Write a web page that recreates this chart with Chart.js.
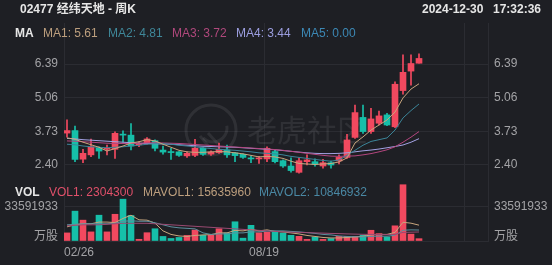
<!DOCTYPE html>
<html>
<head>
<meta charset="utf-8">
<title>02477 经纬天地 - 周K</title>
<script src="https://cdn.jsdelivr.net/npm/chart.js"></script>
<style>
  body { margin: 0; background: #1e1f24; }
  #wrap { position: relative; width: 552px; height: 265px; overflow: hidden; background: #1e1f24;
          font-family: "Liberation Sans", Arial, "Noto Sans CJK SC", sans-serif; }
  canvas { position: absolute; left: 0; top: 0; }
  .t { position: absolute; font-size: 12px; line-height: 14px; white-space: pre; }
  .b { font-weight: bold; color: #e6e6e6; }
</style>
</head>
<body>
<div id="wrap">
  <canvas id="priceChart" width="552" height="265"></canvas>
  <canvas id="volChart" width="552" height="265"></canvas>

  <span class="t b" style="left:20px;top:2px">02477 经纬天地 - 周K</span>
  <span class="t b" style="left:422px;top:2px">2024-12-30</span>
  <span class="t b" style="left:493px;top:2px">17:32:36</span>

  <span class="t b" style="left:15px;top:26px">MA</span>
  <span class="t" style="left:43px;top:26px;color:#bd9f7e">MA1: 5.61</span>
  <span class="t" style="left:108px;top:26px;color:#3f8799">MA2: 4.81</span>
  <span class="t" style="left:172px;top:26px;color:#b0487c">MA3: 3.72</span>
  <span class="t" style="left:236px;top:26px;color:#9c9ee0">MA4: 3.44</span>
  <span class="t" style="left:301px;top:26px;color:#3c88b5">MA5: 0.00</span>

  <span class="t b" style="left:15px;top:185px">VOL</span>
  <span class="t" style="left:49px;top:185px;color:#e0506a">VOL1: 2304300</span>
  <span class="t" style="left:143px;top:185px;color:#bd9f7e">MAVOL1: 15635960</span>
  <span class="t" style="left:259px;top:185px;color:#4a88a4">MAVOL2: 10846932</span>
</div>

<script>
  // weekly candles, 2024-02-26 .. 2024-12-30
  var opens  = [3.66, 3.76, 2.63, 2.80, 3.08, 3.02, 3.02, 3.62, 3.58, 3.20, 3.26, 3.36, 2.99, 2.91, 2.92,
                2.76, 2.78, 3.06, 2.83, 2.89, 2.99, 2.88, 2.82, 2.67, 2.64, 2.64, 2.93, 2.57, 2.36, 2.11,
                2.53, 2.53, 2.36, 2.49, 2.56, 2.70, 3.49, 4.28, 3.72, 4.05, 4.38, 3.91, 5.34, 6.11, 6.42];
  var closes = [3.76, 2.62, 2.86, 3.12, 2.95, 3.04, 3.65, 3.58, 3.15, 3.24, 3.43, 3.06, 2.91, 2.89, 2.78,
                2.86, 3.06, 2.82, 2.91, 3.02, 2.80, 2.77, 2.70, 2.64, 2.67, 3.06, 2.53, 2.36, 2.18, 2.57,
                2.60, 2.43, 2.49, 2.40, 2.70, 3.39, 4.47, 3.72, 4.22, 4.34, 3.98, 5.59, 6.06, 6.41, 6.61];
  var highs  = [4.18, 3.94, 3.02, 3.42, 3.12, 3.19, 3.71, 3.75, 4.04, 3.32, 3.48, 3.39, 3.15, 3.06, 2.93,
                2.92, 3.41, 3.10, 2.96, 3.27, 3.19, 2.90, 2.84, 2.76, 2.74, 3.12, 3.00, 2.60, 2.68, 2.68,
                2.80, 2.64, 2.62, 2.55, 2.80, 3.61, 4.77, 4.77, 4.64, 4.53, 4.44, 5.69, 6.75, 6.75, 6.79];
  var lows   = [3.50, 2.53, 2.49, 2.73, 2.66, 2.80, 2.66, 3.30, 3.00, 3.12, 3.22, 2.96, 2.83, 2.62, 2.74,
                2.70, 2.73, 2.78, 2.78, 2.86, 2.70, 2.53, 2.66, 2.49, 2.46, 2.53, 2.48, 2.30, 2.12, 2.08,
                2.40, 2.35, 2.27, 2.27, 2.44, 2.66, 3.45, 3.65, 3.65, 3.98, 3.95, 3.87, 5.20, 5.55, 6.42];

  var ma1 = [3.47, 3.42, 3.30, 3.20, 3.10, 2.95, 3.05, 3.15, 3.27, 3.32, 3.40, 3.35, 3.22, 3.10, 2.98,
             2.92, 2.90, 2.90, 2.92, 2.93, 2.92, 2.88, 2.84, 2.78, 2.72, 2.74, 2.72, 2.66, 2.55, 2.46,
             2.44, 2.42, 2.44, 2.46, 2.52, 2.68, 3.27, 3.51, 3.78, 3.98, 4.18, 4.49, 5.05, 5.40, 5.61];
  var ma2 = [3.22, 3.20, 3.15, 3.12, 3.10, 3.08, 3.10, 3.12, 3.15, 3.18, 3.22, 3.24, 3.24, 3.22, 3.18,
             3.15, 3.12, 3.08, 3.05, 3.02, 3.00, 2.98, 2.95, 2.92, 2.88, 2.86, 2.84, 2.80, 2.74, 2.70,
             2.66, 2.62, 2.58, 2.55, 2.60, 2.78, 2.98, 3.18, 3.33, 3.40, 3.47, 3.78, 4.26, 4.55, 4.81];
  var ma3 = [3.35, 3.34, 3.32, 3.30, 3.28, 3.26, 3.25, 3.25, 3.25, 3.26, 3.27, 3.28, 3.27, 3.26, 3.25,
             3.23, 3.21, 3.19, 3.17, 3.15, 3.13, 3.11, 3.09, 3.07, 3.05, 3.03, 3.01, 2.98, 2.94, 2.90,
             2.86, 2.82, 2.78, 2.75, 2.74, 2.75, 2.76, 2.80, 2.85, 2.92, 3.00, 3.12, 3.30, 3.50, 3.72];
  var ma4 = [3.45, 3.43, 3.40, 3.38, 3.36, 3.34, 3.32, 3.30, 3.28, 3.26, 3.25, 3.24, 3.23, 3.22, 3.20,
             3.18, 3.16, 3.14, 3.13, 3.12, 3.11, 3.10, 3.08, 3.06, 3.04, 3.02, 3.00, 2.97, 2.94, 2.91,
             2.88, 2.86, 2.85, 2.85, 2.86, 2.88, 2.92, 2.96, 2.99, 3.03, 3.08, 3.13, 3.19, 3.30, 3.44];

  var volumes = [8000000, 29500000, 20600000, 9000000, 25500000, 9000000, 26400000, 41300000, 25200000, 1700000,
                 8200000, 12100000, 4500000, 2500000, 3500000, 5500000, 10800000, 5700000, 5700000, 12100000,
                 8000000, 19000000, 2800000, 15500000, 8100000, 8600000, 9500000, 7900000, 5600000, 4600000,
                 1600000, 4000000, 1600000, 2400000, 4600000, 4600000, 4600000, 5600000, 10600000, 7300000,
                 4000000, 15000000, 55600000, 6800000, 2304300];
  var mavol1 = [14.0, 16.0, 17.0, 17.0, 18.7, 18.7, 18.2, 22.3, 25.5, 20.9, 20.6, 17.7, 10.0, 6.5, 5.0,
                4.5, 5.5, 6.0, 6.3, 8.0, 8.0, 10.5, 10.0, 11.5, 10.0, 11.0, 9.5, 9.0, 8.0, 7.0,
                5.5, 4.5, 3.5, 3.0, 3.0, 3.5, 4.0, 4.7, 6.0, 6.5, 6.5, 8.5, 18.5, 17.6, 15.64];
  var mavol2 = [16.0, 16.5, 17.0, 17.0, 17.0, 17.0, 17.5, 19.5, 20.0, 19.5, 19.5, 18.0, 16.0, 14.0, 13.0,
                12.5, 12.0, 8.0, 6.5, 7.0, 7.0, 8.0, 8.0, 9.0, 9.0, 9.8, 10.0, 10.0, 9.5, 9.0,
                8.3, 7.5, 6.5, 6.0, 5.0, 4.5, 4.2, 4.0, 4.5, 4.8, 4.7, 5.7, 10.6, 11.0, 10.85];
  var mavol3 = [15.0, 15.5, 16.0, 16.0, 16.0, 16.5, 17.0, 17.5, 17.5, 17.5, 17.5, 17.0, 16.5, 16.0, 15.5,
                15.0, 14.5, 14.0, 13.5, 13.0, 12.5, 12.0, 11.5, 11.0, 10.5, 10.0, 9.5, 9.0, 8.7, 8.5,
                8.3, 8.0, 7.8, 7.5, 7.3, 7.0, 6.8, 6.6, 6.5, 6.4, 6.3, 6.5, 8.5, 8.7, 8.9];

  var priceTicks = [2.40, 3.73, 5.06, 6.39];
  var volTicks = [0, 33591933];
  var dateLabels = ['02/26', '08/19', ''];
  var dateIdx = [0, 25, 50];

  var UP = '#f2495f', DOWN = '#16bfa9';
  var GRID = '#2b2c32', GREY = '#a3a3a6';
  var FONT = '"Liberation Sans", Arial, "Noto Sans CJK SC", sans-serif';

  // y ranges so the chart areas line up with the picture
  var PMIN = 1.807, PMAX = 8.01;
  var VMAX = 60267000;
  var XSHIFT = 0.375;   // grid line sits on the bar's left edge
  var XMAX = 53 - XSHIFT;

  var isUp = opens.map(function (o, i) { return closes[i] >= o; });
  var colors = isUp.map(function (u) { return u ? UP : DOWN; });

  function pts(arr, scale) {
    return arr.map(function (v, i) { return { x: i, y: v * (scale || 1) }; });
  }
  function line(arr, color, scale) {
    return { type: 'line', data: pts(arr, scale), borderColor: color, borderWidth: 1,
             pointRadius: 0, tension: 0, order: 0 };
  }

  function xAxis(labels) {
    return {
      type: 'linear', min: -XSHIFT, max: XMAX, offset: false, bounds: 'data',
      afterBuildTicks: function (s) { s.ticks = dateIdx.map(function (v) { return { value: v - XSHIFT }; }); },
      ticks: { display: labels, autoSkip: false, maxRotation: 0, align: 'inner', padding: 4,
               color: GREY, font: { family: FONT, size: 12 },
               callback: function (v, i) { return dateLabels[i]; } },
      grid: { color: GRID, drawTicks: false, offset: false },
      border: { display: labels, color: GRID },
      afterFit: function (s) { s.height = labels ? 24 : 0; }
    };
  }

  function yAxis(pos, min, max, ticks, fmt, lh) {
    return {
      type: 'linear', position: pos, min: min, max: max, bounds: 'data',
      afterBuildTicks: function (s) { s.ticks = ticks.map(function (v) { return { value: v }; }); },
      ticks: { color: GREY, padding: 6, font: { family: FONT, size: 12, lineHeight: lh || 1.2 }, callback: fmt },
      grid: { display: pos === 'left', color: GRID, drawTicks: false },
      border: { display: pos === 'right', color: GRID },
      afterFit: function (s) { s.width = 64; }
    };
  }

  var watermark = {
    id: 'watermark',
    beforeDatasetsDraw: function (chart) {
      var ctx = chart.ctx, a = chart.chartArea;
      var cx = (a.left + a.right) / 2, cy = a.top + 107;
      ctx.save();
      ctx.strokeStyle = 'rgba(255,255,255,0.08)';
      ctx.fillStyle = 'rgba(255,255,255,0.08)';
      ctx.lineWidth = 3;
      ctx.beginPath();
      ctx.arc(cx - 65, cy, 25, 0, Math.PI * 2);
      ctx.stroke();
      ctx.lineWidth = 3;
      ctx.beginPath();
      ctx.arc(cx - 63, cy - 2, 14, 0.75 * Math.PI, 1.95 * Math.PI, true);
      ctx.stroke();
      ctx.beginPath();
      ctx.moveTo(cx - 76, cy + 6); ctx.lineTo(cx - 66, cy + 18);
      ctx.moveTo(cx - 68, cy + 3); ctx.lineTo(cx - 58, cy + 14);
      ctx.stroke();
      ctx.font = '30px "Noto Sans CJK SC"';
      ctx.textBaseline = 'middle';
      ctx.fillText('老虎社区', cx - 29, cy);
      ctx.restore();
    }
  };

  var priceFmt = function (v) { return v.toFixed(2); };

  new Chart(document.getElementById('priceChart').getContext('2d'), {
    type: 'bar',
    data: {
      datasets: [
        line(ma1, '#c8a67e'),
        line(ma2, '#3c8599'),
        line(ma3, '#b4467f'),
        line(ma4, '#a4a2e4'),
        { data: opens.map(function (o, i) { return { x: i, y: [lows[i], highs[i]] }; }),
          backgroundColor: colors, barThickness: 1, grouped: false, order: 2 },
        { data: opens.map(function (o, i) { return { x: i, y: [o, closes[i]] }; }),
          backgroundColor: colors, barThickness: 6, minBarLength: 1, grouped: false, order: 1 }
      ]
    },
    options: {
      responsive: false, animation: false,
      layout: { padding: { top: 23, bottom: 85, left: 0, right: 0 } },
      plugins: { legend: { display: false }, tooltip: { enabled: false } },
      scales: {
        x: xAxis(false),
        y: yAxis('left', PMIN, PMAX, priceTicks, priceFmt),
        y2: yAxis('right', PMIN, PMAX, priceTicks, priceFmt)
      }
    },
    plugins: [watermark]
  });

  var volFmt = function (v) { return v === 0 ? ['万股', ''] : String(v); };

  new Chart(document.getElementById('volChart').getContext('2d'), {
    type: 'bar',
    data: {
      datasets: [
        line(mavol3, '#9a4a72', 1e6),
        line(mavol2, '#5d8f9e', 1e6),
        line(mavol1, '#c8a67e', 1e6),
        { data: pts(volumes), backgroundColor: colors, barThickness: 6, grouped: false, order: 1 }
      ]
    },
    options: {
      responsive: false, animation: false,
      layout: { padding: { top: 180, bottom: 0, left: 0, right: 0 } },
      plugins: { legend: { display: false }, tooltip: { enabled: false } },
      scales: {
        x: xAxis(true),
        y: yAxis('left', 0, VMAX, volTicks, volFmt, 0.75),
        y2: yAxis('right', 0, VMAX, volTicks, volFmt, 0.75)
      }
    }
  });
</script>
</body>
</html>
